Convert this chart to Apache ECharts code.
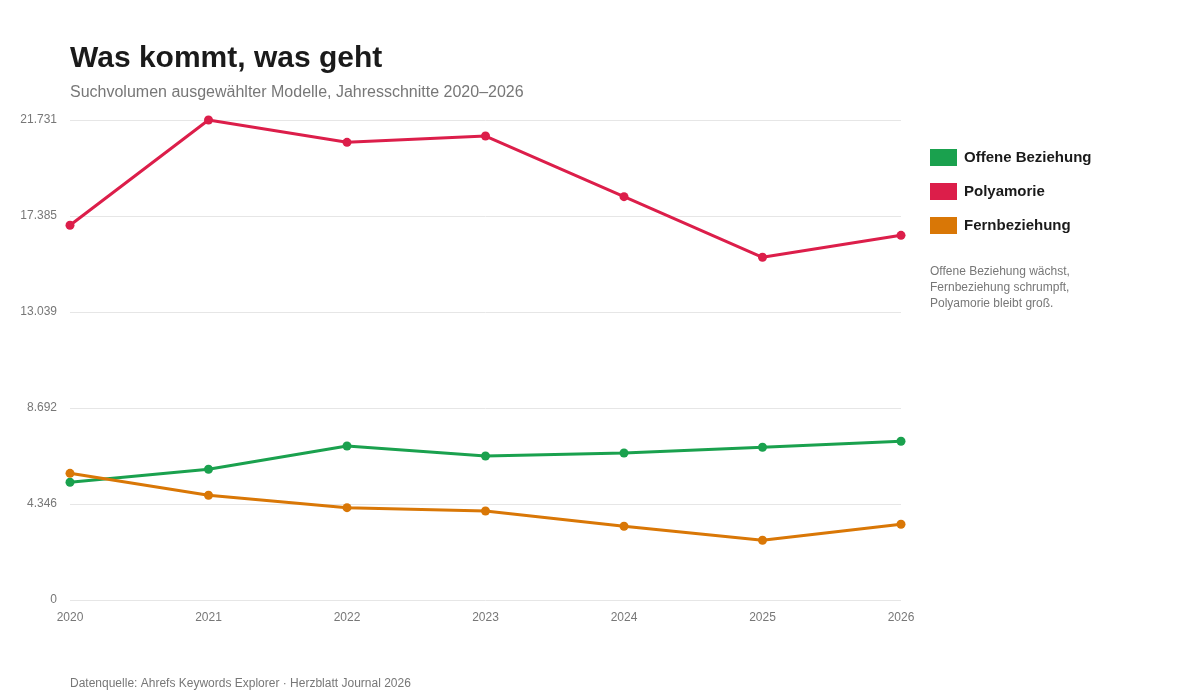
<!DOCTYPE html>
<html lang="de">
<head>
<meta charset="utf-8">
<title>Was kommt, was geht</title>
<script src="https://cdn.jsdelivr.net/npm/echarts@6/dist/echarts.min.js"></script>
<style>
  html, body { margin: 0; padding: 0; background: #fff; }
  #chart { width: 1200px; height: 700px; }
</style>
</head>
<body>
<div id="chart"></div>
<script>
// Jahresschnitte, Werte
const years = ["2020", "2021", "2022", "2023", "2024", "2025", "2026"];
const offeneBeziehung = [5330, 5920, 6970, 6520, 6655, 6915, 7185];
const polyamorie = [16965, 21731, 20720, 21005, 18260, 15515, 16510];
const fernbeziehung = [5735, 4740, 4180, 4030, 3340, 2705, 3430];

const yMax = 21731;
const yInterval = yMax / 5;

const colors = { offen: "#1aa14e", poly: "#dc1e4a", fern: "#d97706" };

const chart = echarts.init(document.getElementById("chart"));

function line(name, data, color) {
  return {
    name, type: "line", data,
    symbol: "circle", symbolSize: 9,
    lineStyle: { width: 3, color },
    itemStyle: { color },
    emphasis: { disabled: true }
  };
}

chart.setOption({
  animation: false,
  textStyle: { fontFamily: "Liberation Sans, Arial, sans-serif" },
  title: [
    {
      text: "Was kommt, was geht",
      left: 70, top: 44, padding: 0,
      textStyle: { fontSize: 30, fontWeight: "bold", color: "#1a1a1a" }
    },
    {
      text: "Suchvolumen ausgewählter Modelle, Jahresschnitte 2020–2026",
      left: 70, top: 85, padding: 0,
      textStyle: { fontSize: 16, fontWeight: "normal", color: "#777" }
    },
    {
      text: "Datenquelle: Ahrefs Keywords Explorer · Herzblatt Journal 2026",
      left: 70, top: 678, padding: 0,
      textStyle: { fontSize: 12, fontWeight: "normal", color: "#777" }
    },
    {
      text: "Offene Beziehung wächst,\nFernbeziehung schrumpft,\nPolyamorie bleibt groß.",
      left: 930, top: 264, padding: 0,
      textStyle: { fontSize: 12, fontWeight: "normal", color: "#777", lineHeight: 16 }
    }
  ],
  legend: {
    orient: "vertical",
    left: 930, top: 149, padding: 0,
    icon: "rect",
    itemWidth: 27, itemHeight: 17, itemGap: 17,
    selectedMode: false,
    textStyle: { fontSize: 15, fontWeight: "bold", color: "#1a1a1a", padding: [0, 0, 0, 2] },
    data: ["Offene Beziehung", "Polyamorie", "Fernbeziehung"]
  },
  grid: { left: 70, right: 299, top: 120, bottom: 100, containLabel: false },
  xAxis: {
    type: "category",
    data: years,
    boundaryGap: false,
    axisLine: { show: false },
    axisTick: { show: false },
    axisLabel: { color: "#777", fontSize: 12, margin: 12 }
  },
  yAxis: {
    type: "value",
    min: 0, max: yMax, interval: yInterval,
    axisLine: { show: false },
    axisTick: { show: false },
    axisLabel: {
      color: "#777", fontSize: 12, margin: 13, padding: [2, 0, 0, 0],
      formatter: v => Math.round(v).toLocaleString("de-DE")
    },
    splitLine: { lineStyle: { color: "#e6e6e6", width: 1 } }
  },
  series: [
    line("Offene Beziehung", offeneBeziehung, colors.offen),
    line("Polyamorie", polyamorie, colors.poly),
    line("Fernbeziehung", fernbeziehung, colors.fern)
  ]
});
</script>
</body>
</html>
